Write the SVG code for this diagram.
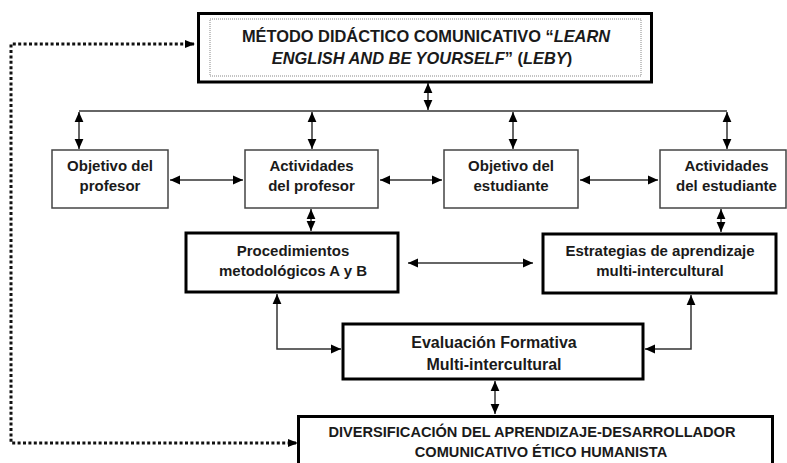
<svg xmlns="http://www.w3.org/2000/svg" width="787" height="463" viewBox="0 0 787 463">
<style>
text{font-family:"Liberation Sans",Arial,sans-serif;font-weight:bold;fill:#1a1a1a;text-anchor:middle}
.thin{fill:#fff;stroke:#444;stroke-width:1.5}
.thick{fill:#fff;stroke:#000;stroke-width:3}
.c{fill:none;stroke:#333;stroke-width:1.5}
.a{marker-start:url(#ah);marker-end:url(#ah)}
.dot{fill:none;stroke:#111;stroke-width:3;stroke-dasharray:3 2.4}
.f15{font-size:15px}
.f16{font-size:16px}
.it{font-style:italic}
</style>
<defs>
<marker id="ah" markerUnits="userSpaceOnUse" markerWidth="10" markerHeight="10" viewBox="0 0 10 10" refX="10" refY="5" orient="auto-start-reverse">
<path d="M0,0.6 L10,5 L0,9.4 z" fill="#000"/>
</marker>
<marker id="ahd" markerUnits="userSpaceOnUse" markerWidth="10" markerHeight="10" viewBox="0 0 10 10" refX="9" refY="5" orient="auto-start-reverse">
<path d="M0,1 L10,5 L0,9 z" fill="#000"/>
</marker>
</defs>
<rect width="787" height="463" fill="#fff"/>
<g id="connectors">
<line class="c a" x1="428" y1="83" x2="428" y2="110"/>
<line class="c" x1="79" y1="111" x2="727" y2="111"/>
<line class="c a" x1="79" y1="112" x2="79" y2="149"/>
<line class="c a" x1="312" y1="112" x2="312" y2="149"/>
<line class="c a" x1="513" y1="112" x2="513" y2="149"/>
<line class="c a" x1="727" y1="112" x2="727" y2="149"/>
<line class="c a" x1="170" y1="180" x2="243" y2="180"/>
<line class="c a" x1="380" y1="180" x2="442" y2="180"/>
<line class="c a" x1="580" y1="180" x2="658" y2="180"/>
<line class="c a" x1="311" y1="209" x2="311" y2="231"/>
<line class="c a" x1="721" y1="209" x2="721" y2="232"/>
<line class="c a" x1="408" y1="263" x2="533" y2="263"/>
<path class="c a" d="M277 294 V349 H341"/>
<path class="c a" d="M691 295 V349 H645"/>
<line class="c a" x1="495" y1="381" x2="495" y2="414"/>
<path class="dot" d="M194 44 H11 V443 H297" style="marker-start:url(#ahd);marker-end:url(#ahd)"/>
</g>
<g id="metodo">
<rect class="thick" x="198.5" y="13.5" width="453" height="68.5"/>
<rect x="210" y="19" width="431" height="57" fill="none" stroke="#888" stroke-width="1" stroke-dasharray="1 1"/>
<text x="426" y="42" style="font-size:16.4px">MÉTODO DIDÁCTICO COMUNICATIVO “<tspan class="it">LEARN</tspan></text>
<text x="422" y="64" style="font-size:16.4px"><tspan class="it">ENGLISH AND BE YOURSELF</tspan>” (<tspan class="it">LEBY</tspan>)</text>
</g>
<g id="obj-profesor">
<rect class="thin" x="52" y="150" width="116" height="58"/>
<text class="f15" x="110" y="171">Objetivo del</text>
<text class="f15" x="110" y="191">profesor</text>
</g>
<g id="act-profesor">
<rect class="thin" x="245" y="150" width="133" height="58"/>
<text class="f15" x="311.5" y="171">Actividades</text>
<text class="f15" x="311.5" y="191">del profesor</text>
</g>
<g id="obj-estudiante">
<rect class="thin" x="444" y="150" width="134" height="58"/>
<text class="f15" x="511" y="171">Objetivo del</text>
<text class="f15" x="511" y="191">estudiante</text>
</g>
<g id="act-estudiante">
<rect class="thin" x="660" y="150" width="126" height="58"/>
<text class="f15" x="726.5" y="171">Actividades</text>
<text class="f15" x="726.5" y="191">del estudiante</text>
</g>
<g id="procedimientos">
<rect class="thick" x="186" y="233" width="212" height="59"/>
<text class="f15" x="293" y="256">Procedimientos</text>
<text class="f15" x="293" y="276">metodológicos A y B</text>
</g>
<g id="estrategias">
<rect class="thick" x="543" y="234" width="233" height="59"/>
<text class="f15" x="660" y="256">Estrategias de aprendizaje</text>
<text class="f15" x="660" y="276">multi-intercultural</text>
</g>
<g id="evaluacion">
<rect class="thick" x="343" y="324" width="300" height="55"/>
<text class="f16" x="494" y="348">Evaluación Formativa</text>
<text class="f16" x="494" y="370">Multi-intercultural</text>
</g>
<g id="diversificacion">
<rect class="thick" x="298.5" y="416.5" width="474" height="60"/>
<text x="532" y="437" style="font-size:14.6px">DIVERSIFICACIÓN DEL APRENDIZAJE-DESARROLLADOR</text>
<text x="541" y="457" style="font-size:14.6px">COMUNICATIVO ÉTICO HUMANISTA</text>
</g>
</svg>
